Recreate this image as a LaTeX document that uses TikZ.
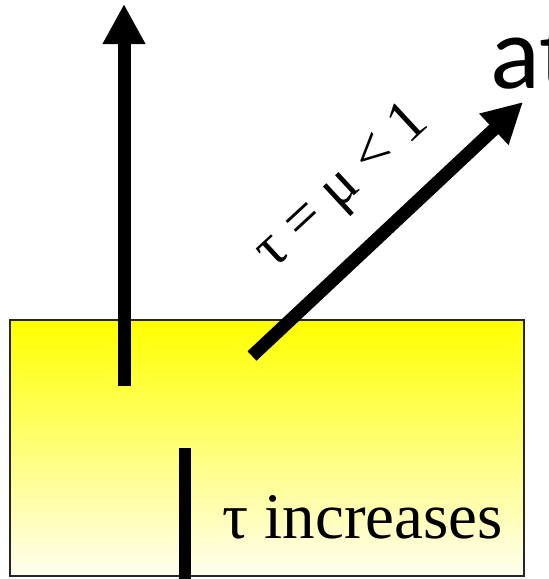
\documentclass[tikz,border=0pt]{standalone}
\usepackage{fontspec}
\setmainfont{Liberation Serif}
\newfontfamily\atfont{Carlito}
\usetikzlibrary{arrows.meta}
\definecolor{slabtop}{RGB}{255,255,0}
\definecolor{slabbottom}{RGB}{255,254,240}

\begin{document}
\begin{tikzpicture}[x=1pt, y=-1pt, >={Triangle[width=40pt,length=40pt]}]
			\useasboundingbox (0,0) rectangle (549,579);
			\shadedraw[top color=slabtop, bottom color=slabbottom, draw=black!85, line width=2pt] (10,320) rectangle (524,576);
			% arrows and depth marker
			\coordinate (upfoot) at (124,386);
			\coordinate (uptip) at (124,4);
			\coordinate (slantfoot) at (252,356);
			\coordinate (slanttip) at (523,102);
			\coordinate (depthtop) at (185,448);
			\coordinate (depthbot) at (185,590);
			\draw[->, line width=13pt] (upfoot) -- (uptip);
			\draw[->, line width=13pt] (slantfoot) -- (slanttip);
			\draw[line width=12pt] (depthtop) -- (depthbot);
			\node[rotate=42.8, font=\fontsize{60}{60}\selectfont] (mulabel) at (343,188) {τ = μ < 1};
			\node[anchor=base west, inner sep=0pt, font=\fontsize{65}{65}\selectfont] (tauinc) at (222,538) {τ increases};
			\node[anchor=base west, inner sep=0pt, font=\atfont\fontsize{104}{104}\selectfont] (atlabel) at (490,88) {at};
		\end{tikzpicture}
\end{document}
